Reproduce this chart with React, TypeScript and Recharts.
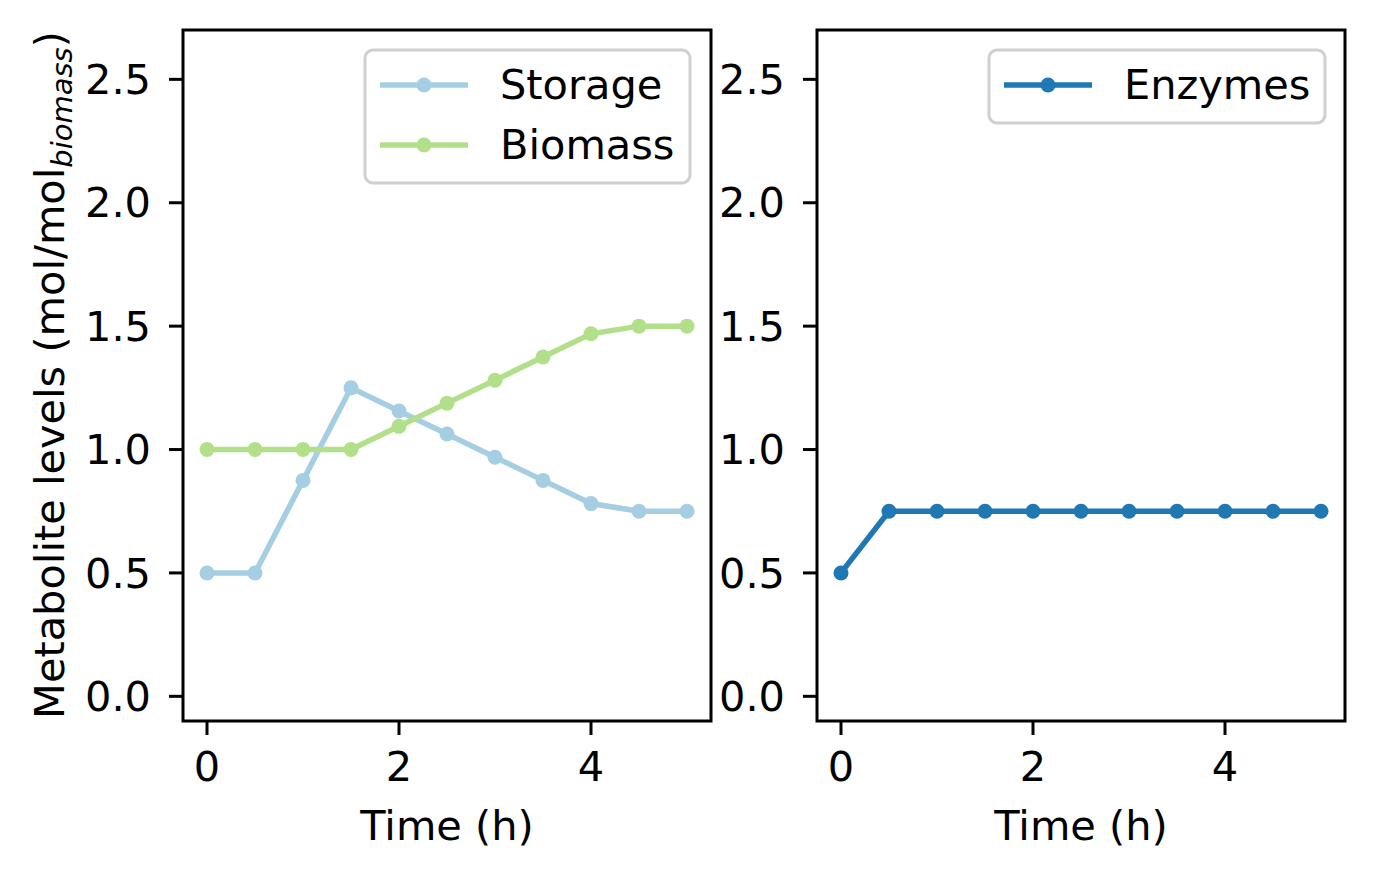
import React from 'react';
import { LineChart, Line, XAxis, YAxis, ReferenceArea } from 'recharts';

// Sampling times (h)
const time = [0, 0.5, 1, 1.5, 2, 2.5, 3, 3.5, 4, 4.5, 5];
// Metabolite levels (mol/mol biomass)
const storage = [0.5, 0.5, 0.875, 1.25, 1.156, 1.063, 0.969, 0.875, 0.781, 0.75, 0.75];
const biomass = [1.0, 1.0, 1.0, 1.0, 1.094, 1.188, 1.281, 1.375, 1.469, 1.5, 1.5];
const enzymes = [0.5, 0.75, 0.75, 0.75, 0.75, 0.75, 0.75, 0.75, 0.75, 0.75, 0.75];

const xTicks = [0, 2, 4];
const yTicks = [0, 0.5, 1, 1.5, 2, 2.5];
const xDomain: [number, number] = [-0.25, 5.25];
const yDomain: [number, number] = [-0.1, 2.7];

const leftSeries = [
  { key: 'storage', name: 'Storage', color: '#a6cee3' },
  { key: 'biomass', name: 'Biomass', color: '#b2df8a' },
];
const rightSeries = [{ key: 'enzymes', name: 'Enzymes', color: '#1f78b4' }];

const rows = time.map((t, i) => ({
  t,
  storage: storage[i],
  biomass: biomass[i],
  enzymes: enzymes[i],
}));

const FONT = "'DejaVu Sans', sans-serif";
const FS = 41.5;
const AXIS_W = 80;
const AXIS_H = 80;

const tickStyle = { fill: '#000', fontSize: FS, fontFamily: FONT };
const tickLine = { stroke: '#000', strokeWidth: 3 };

function Panel({
  left,
  width,
  plotLeft,
  marginRight,
  series,
}: {
  left: number;
  width: number;
  plotLeft: number;
  marginRight: number;
  series: { key: string; name: string; color: string }[];
}) {
  return (
    <div style={{ position: 'absolute', left, top: 0 }}>
      <LineChart
        width={width}
        height={878}
        data={rows}
        margin={{ top: 30, right: marginRight, bottom: 157 - AXIS_H, left: plotLeft - AXIS_W }}
      >
        <XAxis
          dataKey="t"
          type="number"
          domain={xDomain}
          ticks={xTicks}
          interval={0}
          allowDataOverflow
          height={AXIS_H}
          axisLine={false}
          tickLine={tickLine}
          tickSize={14}
          tickMargin={17}
          tick={tickStyle}
        />
        <YAxis
          type="number"
          domain={yDomain}
          ticks={yTicks}
          interval={0}
          allowDataOverflow
          width={AXIS_W}
          axisLine={false}
          tickLine={tickLine}
          tickSize={14}
          tickMargin={18}
          tick={tickStyle}
          tickFormatter={(v: number) => v.toFixed(1)}
        />
        {series.map((s) => (
          <Line
            key={s.key}
            dataKey={s.key}
            name={s.name}
            stroke={s.color}
            strokeWidth={5.5}
            dot={{ r: 7.5, fill: s.color, stroke: s.color, strokeWidth: 0 }}
            activeDot={false}
            isAnimationActive={false}
          />
        ))}
        <ReferenceArea
          x1={xDomain[0]}
          x2={xDomain[1]}
          y1={yDomain[0]}
          y2={yDomain[1]}
          fill="none"
          fillOpacity={0}
          stroke="#000"
          strokeWidth={3}
          ifOverflow="visible"
        />
      </LineChart>
    </div>
  );
}

function LegendBox({
  x,
  y,
  w,
  series,
}: {
  x: number;
  y: number;
  w: number;
  series: { key: string; name: string; color: string }[];
}) {
  const rowH = 60;
  const h = 12 + series.length * rowH + 1;
  return (
    <g>
      <rect
        x={x}
        y={y}
        width={w}
        height={h}
        rx={8}
        ry={8}
        fill="#fff"
        fillOpacity={0.8}
        stroke="#d0d0d0"
        strokeWidth={3}
      />
      {series.map((s, i) => {
        const cy = y + 35 + i * rowH;
        return (
          <g key={s.key}>
            <line x1={x + 15} x2={x + 103} y1={cy} y2={cy} stroke={s.color} strokeWidth={5.5} />
            <circle cx={x + 59} cy={cy} r={7.5} fill={s.color} />
            <text x={x + 135} y={cy + 14} fontSize={FS} fontFamily={FONT} fill="#000">
              {s.name}
            </text>
          </g>
        );
      })}
    </g>
  );
}

export default function App() {
  return (
    <div
      style={{
        position: 'absolute',
        left: 0,
        top: 0,
        width: 1375,
        height: 878,
        background: '#fff',
        overflow: 'hidden',
      }}
    >
      <Panel left={0} width={720} plotLeft={183} marginRight={9} series={leftSeries} />
      <Panel left={720} width={655} plotLeft={97} marginRight={30} series={rightSeries} />
      <svg
        width={1375}
        height={878}
        style={{ position: 'absolute', left: 0, top: 0, pointerEvents: 'none' }}
      >
        <text
          transform="translate(64, 375) rotate(-90)"
          textAnchor="middle"
          fontSize={FS}
          fontFamily={FONT}
          fill="#000"
        >
          Metabolite levels (mol/mol
          <tspan fontSize={29} fontStyle="italic" dy={8}>
            biomass
          </tspan>
          <tspan dy={-8}>)</tspan>
        </text>
        <text x={447} y={840} textAnchor="middle" fontSize={FS} fontFamily={FONT} fill="#000">
          Time (h)
        </text>
        <text x={1081} y={840} textAnchor="middle" fontSize={FS} fontFamily={FONT} fill="#000">
          Time (h)
        </text>
        <LegendBox x={365} y={50} w={325} series={leftSeries} />
        <LegendBox x={989} y={50} w={336} series={rightSeries} />
      </svg>
    </div>
  );
}
